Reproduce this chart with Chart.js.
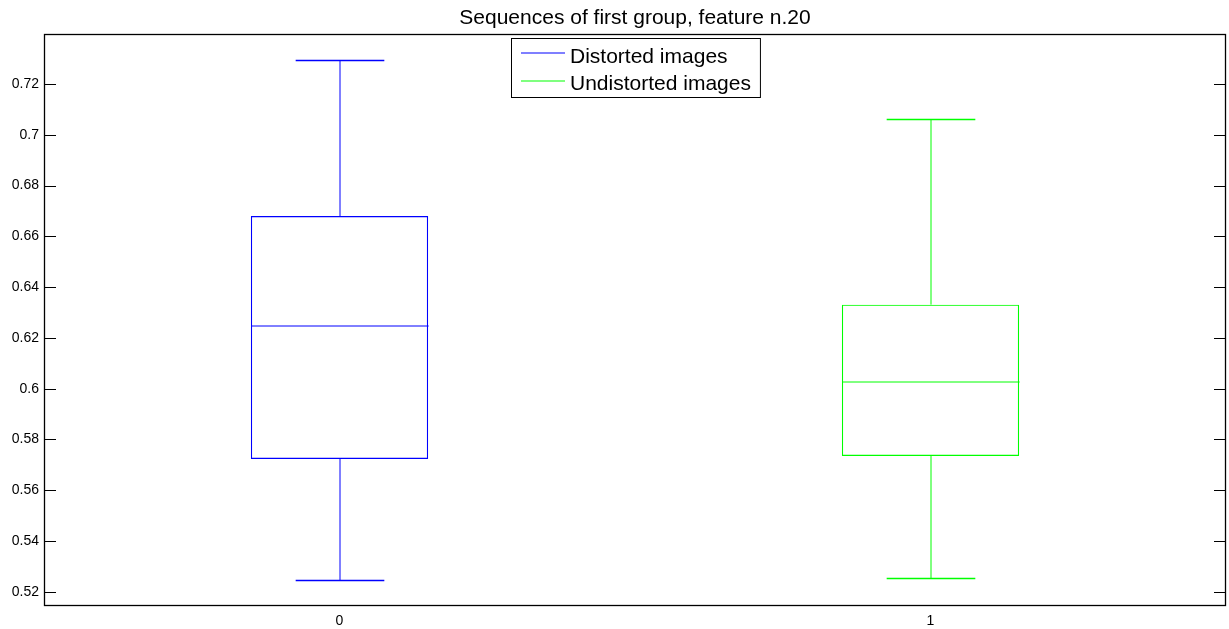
<!DOCTYPE html>
<html>
<head>
<meta charset="utf-8">
<script src="https://cdn.jsdelivr.net/npm/chart.js@4"></script>
<style>
  html, body { margin: 0; padding: 0; background: #fff; }
  #wrap { width: 1229px; height: 629px; }
</style>
</head>
<body>
<div id="wrap"><canvas id="c" width="1229" height="629"></canvas></div>
<script>
// ---- data ----
const chartTitle = 'Sequences of first group, feature n.20';
const categories = ['0', '1'];
const seriesNames = ['Distorted images', 'Undistorted images'];
const seriesColors = ['#0000ff', '#00ff00'];
const whiskerHigh = [0.7293, 0.7063];
const upperQuartile = [0.6680, 0.6331];
const medians = [0.6248, 0.6025];
const lowerQuartile = [0.5723, 0.5735];
const whiskerLow = [0.5245, 0.5254];
const yTickValues = [0.52, 0.54, 0.56, 0.58, 0.60, 0.62, 0.64, 0.66, 0.68, 0.70, 0.72];
const yTickLabels = ['0.52', '0.54', '0.56', '0.58', '0.6', '0.62', '0.64', '0.66', '0.68', '0.7', '0.72'];
const yMin = 0.5144, yMax = 0.7397;

const FONT = "'Liberation Sans', Arial, Helvetica, sans-serif";
const BOX_FRACTION = 0.3;   // box width as fraction of category band
const CAP_FRACTION = 0.15;  // whisker cap width

const datasets = seriesNames.map((name, i) => ({
  label: name,
  data: categories.map((c, j) => j === i ? [lowerQuartile[j], upperQuartile[j]] : null),
  backgroundColor: 'rgba(0,0,0,0)',
  borderColor: seriesColors[i],
  borderWidth: 1.2,
  borderSkipped: false,
  grouped: false,
  barPercentage: BOX_FRACTION,
  categoryPercentage: 1.0
}));

const boxPlugin = {
  id: 'boxExtras',
  afterDatasetsDraw(chart) {
    const ctx = chart.ctx;
    const xs = chart.scales.x, ys = chart.scales.y;
    const area = chart.chartArea;
    const band = xs.width / categories.length;
    ctx.save();
    categories.forEach((c, j) => {
      const col = seriesColors[j];
      const cx = Math.round(xs.getPixelForValue(j));
      const bh = band * BOX_FRACTION / 2;
      const ch = band * CAP_FRACTION / 2;
      const yHi = Math.round(ys.getPixelForValue(whiskerHigh[j])) + 0.5;
      const yQ3 = ys.getPixelForValue(upperQuartile[j]);
      const yMed = Math.round(ys.getPixelForValue(medians[j]));
      const yQ1 = ys.getPixelForValue(lowerQuartile[j]);
      const yLo = Math.round(ys.getPixelForValue(whiskerLow[j])) + 0.5;
      ctx.strokeStyle = col;
      // whiskers and median (soft lines as in the reference)
      ctx.lineWidth = 1;
      ctx.beginPath();
      ctx.moveTo(cx, yHi); ctx.lineTo(cx, yQ3);
      ctx.moveTo(cx, yQ1); ctx.lineTo(cx, yLo);
      ctx.moveTo(cx - bh, yMed); ctx.lineTo(cx + bh, yMed);
      ctx.stroke();
      // caps (crisp)
      ctx.lineWidth = 1.3;
      ctx.beginPath();
      ctx.moveTo(cx - ch, yHi); ctx.lineTo(cx + ch, yHi);
      ctx.moveTo(cx - ch, yLo); ctx.lineTo(cx + ch, yLo);
      ctx.stroke();
    });

    // axes frame
    ctx.strokeStyle = '#000';
    ctx.lineWidth = 1.3;
    ctx.strokeRect(area.left + 0.5, area.top + 0.5, area.right - area.left - 1, area.bottom - area.top - 1);

    // inward y ticks on both sides
    ctx.lineWidth = 1;
    const tl = Math.round((area.right - area.left) * 0.01);
    ctx.beginPath();
    ys.ticks.forEach(t => {
      const y = Math.round(ys.getPixelForValue(t.value)) + 0.5;
      ctx.moveTo(area.left, y); ctx.lineTo(area.left + tl, y);
      ctx.moveTo(area.right, y); ctx.lineTo(area.right - tl, y);
    });
    ctx.stroke();

    // title
    ctx.fillStyle = '#000';
    ctx.font = '21px ' + FONT;
    ctx.textAlign = 'center';
    ctx.textBaseline = 'alphabetic';
    ctx.fillText(chartTitle, (area.left + area.right) / 2, area.top - 10.5);

    // legend
    ctx.font = '21px ' + FONT;
    ctx.textAlign = 'left';
    const maxW = Math.max(...seriesNames.map(s => ctx.measureText(s).width));
    const padL = 9.5, lineLen = 44, gap = 5, padR = 9.5;
    const lw = padL + lineLen + gap + maxW + padR;
    const lh = 59;
    const lx = Math.round((area.left + area.right) / 2 - lw / 2) + 0.5;
    const ly = area.top + 4.5;
    ctx.fillStyle = '#fff';
    ctx.fillRect(lx, ly, lw, lh);
    ctx.strokeStyle = '#000';
    ctx.lineWidth = 1;
    ctx.strokeRect(lx, ly, lw, lh);
    seriesNames.forEach((name, i) => {
      const base = ly + 24.2 + i * 27.3;
      const yl = Math.round(base - 9.4);
      ctx.strokeStyle = seriesColors[i];
      ctx.lineWidth = 1.2;
      ctx.beginPath();
      ctx.moveTo(lx + padL, yl); ctx.lineTo(lx + padL + lineLen, yl);
      ctx.stroke();
      ctx.fillStyle = '#000';
      ctx.fillText(name, lx + padL + lineLen + gap, base);
    });
    ctx.restore();
  }
};

new Chart(document.getElementById('c'), {
  type: 'bar',
  data: { labels: categories, datasets },
  plugins: [boxPlugin],
  options: {
    responsive: false,
    animation: false,
    layout: { padding: { top: 34, right: 3, left: 0, bottom: 0 } },
    plugins: { legend: { display: false }, title: { display: false }, tooltip: { enabled: false } },
    scales: {
      x: {
        type: 'category',
        offset: true,
        grid: { display: false, drawTicks: false },
        border: { display: false },
        ticks: { color: '#000', font: { family: FONT, size: 14 }, padding: 7, maxRotation: 0 },
        afterFit(s) { s.height = 23; }
      },
      y: {
        type: 'linear',
        min: yMin,
        max: yMax,
        grid: { display: false, drawTicks: false },
        border: { display: false },
        afterBuildTicks(s) { s.ticks = yTickValues.map(v => ({ value: v })); },
        ticks: {
          color: '#000',
          font: { family: FONT, size: 14 },
          padding: 5,
          callback(v, idx) { return yTickLabels[idx]; }
        },
        afterFit(s) { s.width = 44; }
      }
    }
  }
});
</script>
</body>
</html>
